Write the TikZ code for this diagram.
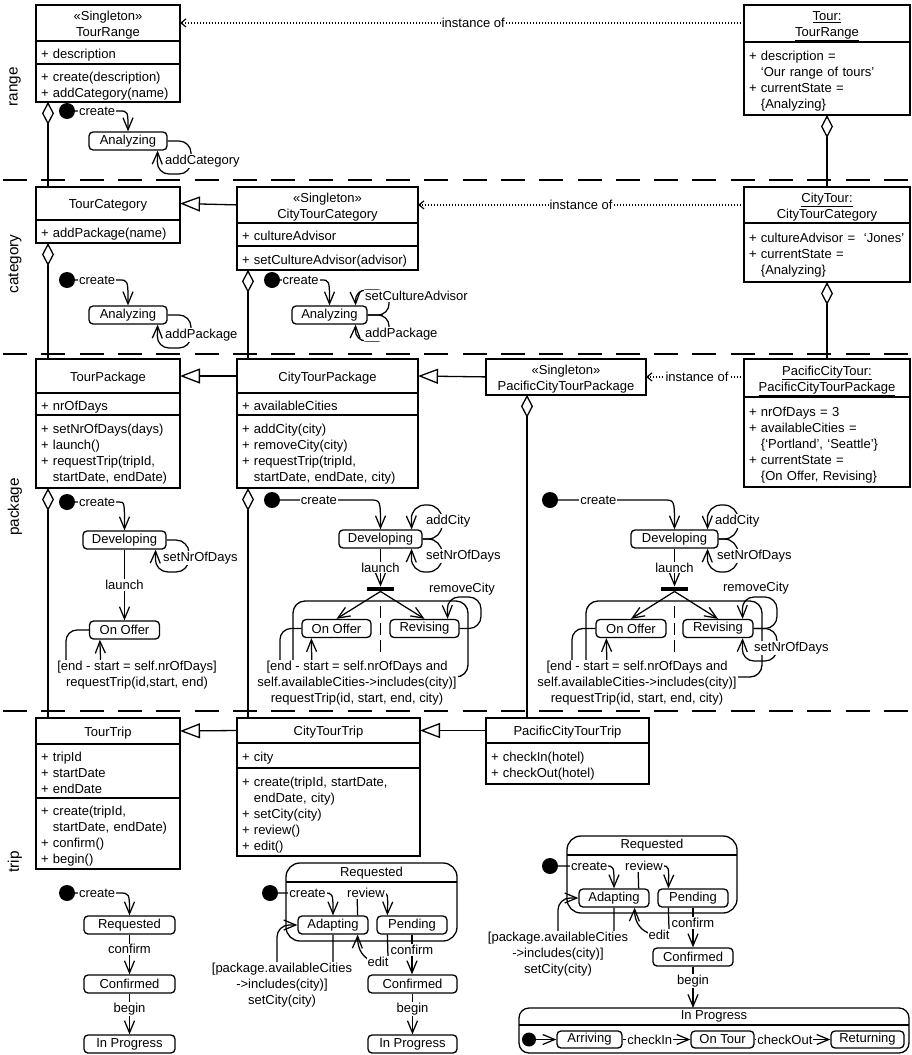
\documentclass[tikz,border=0pt]{standalone}
\usepackage{fontspec}
\setmainfont{Liberation Sans}
\usetikzlibrary{arrows.meta}
\newcommand\umlsize{\fontsize{13}{16}\selectfont}
\newcommand\lanesize{\fontsize{15.3}{18}\selectfont}
% compartment text: left-aligned lines, nudged slightly below the middle
\newcommand\cmplines[1]{\begin{tabular}{@{}l@{}}\rule{0pt}{17.2pt}#1\end{tabular}}
% header text: centred lines, nudged slightly below the middle
\newcommand\hdrlines[1]{\begin{tabular}{@{}c@{}}\rule{0pt}{15pt}#1\end{tabular}}
\newcommand\contind{\phantom{+ }}

\begin{document}
\begin{tikzpicture}[x=1pt, y=-1pt, font=\umlsize,
  box/.style={draw, line width=1.4pt, anchor=north west, inner xsep=5pt, inner ysep=0pt, outer sep=0pt},
  hdr/.style={box, align=center},
  cmp/.style={box, align=left},
  state/.style={draw, line width=1.3pt, rounded corners=4pt, minimum height=18pt, inner sep=0pt},
  init/.style={circle, fill=black, minimum size=16pt, inner sep=0pt},
  fork/.style={fill=black, minimum width=27pt, minimum height=4.5pt, inner sep=0pt},
  region/.style={draw, line width=1.3pt, rounded corners=12pt, anchor=north west, inner sep=0pt, outer sep=0pt},
  composite/.style={draw, line width=1.3pt, rounded corners=14pt, anchor=north west, inner sep=0pt, outer sep=0pt},
  lbl/.style={fill=white, inner sep=1pt},
  guard/.style={fill=white, inner sep=1pt, align=center},
  tr/.style={line width=1.25pt, -{Straight Barb[length=12pt,width=10pt]}},
  gen/.style={line width=1.3pt, -{Triangle[fill=white,length=20pt,width=15pt]}},
  agg/.style={line width=1.3pt, {Diamond[fill=white,length=23pt,width=12pt]}-},
  inst/.style={line width=1.2pt, dash pattern=on 1.5pt off 1.5pt, -{Straight Barb[length=5pt,width=8pt]}},
  lane/.style={line width=1.4pt, dash pattern=on 24pt off 14.3pt},
  sep/.style={line width=1.3pt, dash pattern=on 12pt off 5pt},
  lanename/.style={rotate=90, font=\lanesize},
]
\fill[white] (0,0) rectangle (911,1055);
\useasboundingbox (0,0) rectangle (911,1055);

% swimlane separators
\draw[lane] (3,180) -- (911,180);
\draw[lane] (3,354) -- (911,354);
\draw[lane] (3,711) -- (911,711);

% lane names
\node[lanename] (laneRange) at (15,87) {range};
\node[lanename] (laneCategory) at (15,264) {category};
\node[lanename] (lanePackage) at (15,507) {package};
\node[lanename] (laneTrip) at (15,862) {trip};

% ---------------- classes ----------------
\node[hdr, minimum width=144pt, minimum height=33pt] (TRh) at (36,5) {\hdrlines{«Singleton»\\TourRange}};
\node[cmp, text width=134pt, minimum height=23pt] (TRa) at (TRh.south west) {\cmplines{+ description}};
\node[cmp, text width=134pt, minimum height=38pt] (TRo) at (TRa.south west) {\cmplines{+ create(description)\\+ addCategory(name)}};

\node[hdr, minimum width=144pt, minimum height=33pt] (TCh) at (36,187) {\hdrlines{TourCategory}};
\node[cmp, text width=134pt, minimum height=23pt] (TCo) at (TCh.south west) {\cmplines{+ addPackage(name)}};

\node[hdr, minimum width=181pt, minimum height=34pt] (CTCh) at (237,187) {\hdrlines{«Singleton»\\CityTourCategory}};
\node[cmp, text width=171pt, minimum height=23pt] (CTCa) at (CTCh.south west) {\cmplines{+ cultureAdvisor}};
\node[cmp, text width=171pt, minimum height=24pt] (CTCo) at (CTCa.south west) {\cmplines{+ setCultureAdvisor(advisor)}};

\node[hdr, minimum width=144pt, minimum height=34pt] (TPh) at (36,359) {\hdrlines{TourPackage}};
\node[cmp, text width=134pt, minimum height=22pt] (TPa) at (TPh.south west) {\cmplines{+ nrOfDays}};
\node[cmp, text width=134pt, minimum height=73pt] (TPo) at (TPa.south west) {\cmplines{+ setNrOfDays(days)\\+ launch()\\+ requestTrip(tripId,\\\contind startDate, endDate)}};

\node[hdr, minimum width=181pt, minimum height=34pt] (CTPh) at (237,359) {\hdrlines{CityTourPackage}};
\node[cmp, text width=171pt, minimum height=22pt] (CTPa) at (CTPh.south west) {\cmplines{+ availableCities}};
\node[cmp, text width=171pt, minimum height=73pt] (CTPo) at (CTPa.south west) {\cmplines{+ addCity(city)\\+ removeCity(city)\\+ requestTrip(tripId,\\\contind startDate, endDate, city)}};

\node[hdr, minimum width=160pt, minimum height=34pt] (PCTPh) at (486,359) {\hdrlines{«Singleton»\\PacificCityTourPackage}};

\node[hdr, minimum width=144pt, minimum height=26pt] (TTh) at (36,718) {\hdrlines{TourTrip}};
\node[cmp, text width=134pt, minimum height=54pt] (TTa) at (TTh.south west) {\cmplines{+ tripId\\+ startDate\\+ endDate}};
\node[cmp, text width=134pt, minimum height=71pt] (TTo) at (TTa.south west) {\cmplines{+ create(tripId,\\\contind startDate, endDate)\\+ confirm()\\+ begin()}};

\node[hdr, minimum width=183pt, minimum height=25pt] (CTTh) at (237,718) {\hdrlines{CityTourTrip}};
\node[cmp, text width=173pt, minimum height=25pt] (CTTa) at (CTTh.south west) {\cmplines{+ city}};
\node[cmp, text width=173pt, minimum height=88pt] (CTTo) at (CTTa.south west) {\cmplines{+ create(tripId, startDate,\\\contind endDate, city)\\+ setCity(city)\\+ review()\\+ edit()}};

\node[hdr, minimum width=163pt, minimum height=25pt] (PCTTh) at (486,718) {\hdrlines{PacificCityTourTrip}};
\node[cmp, text width=153pt, minimum height=41pt] (PCTTo) at (PCTTh.south west) {\cmplines{+ checkIn(hotel)\\+ checkOut(hotel)}};

% ---------------- instances ----------------
\node[hdr, minimum width=166pt, minimum height=37pt] (TIh) at (744,5) {\hdrlines{\underline{Tour:}\\\underline{TourRange}}};
\node[cmp, text width=156pt, minimum height=73pt] (TIa) at (TIh.south west) {\cmplines{+ description =\\\contind ‘Our range of tours’\\+ currentState =\\\contind \{Analyzing\}}};

\node[hdr, minimum width=166pt, minimum height=36pt] (CTIh) at (744,187) {\hdrlines{\underline{CityTour:}\\\underline{CityTourCategory}}};
\node[cmp, text width=156pt, minimum height=59pt] (CTIa) at (CTIh.south west) {\cmplines{+ cultureAdvisor = \ ‘Jones’\\+ currentState =\\\contind \{Analyzing\}}};

\node[hdr, minimum width=166pt, minimum height=38pt] (PCTIh) at (744,359) {\hdrlines{\underline{PacificCityTour:}\\\underline{PacificCityTourPackage}}};
\node[cmp, text width=156pt, minimum height=90pt] (PCTIa) at (PCTIh.south west) {\cmplines{+ nrOfDays = 3\\+ availableCities =\\\contind \{‘Portland’, ‘Seattle’\}\\+ currentState =\\\contind \{On Offer, Revising\}}};

% generalizations
\draw[gen] (CTCh.west) -- (TCh.east);
\draw[gen] (CTPh.west) -- (TPh.east);
\draw[gen] (PCTPh.west) -- (CTPh.east);
\draw[gen] (CTTh.west) -- (TTh.east);
\draw[gen] (PCTTh.west) -- (CTTh.east);

% aggregations
\draw[agg] ([xshift=12pt]TRo.south west) -- ([xshift=12pt]TCh.north west);
\draw[agg] ([xshift=12pt]TCo.south west) -- ([xshift=12pt]TPh.north west);
\draw[agg] ([xshift=12pt]TPo.south west) -- ([xshift=12pt]TTh.north west);
\draw[agg] ([xshift=11pt]CTCo.south west) -- ([xshift=11pt]CTPh.north west);
\draw[agg] ([xshift=11pt]CTPo.south west) -- ([xshift=11pt]CTTh.north west);
\draw[agg] ([xshift=41pt]PCTPh.south west) -- ([xshift=41pt]PCTTh.north west);
\draw[agg] (TIa.south) -- (CTIh.north);
\draw[agg] (CTIa.south) -- (PCTIh.north);

% instance-of dependencies
\draw[inst] (TIh.west |- TRh.east) -- node[lbl, pos=0.48]{instance of} (TRh.east);
\draw[inst] (CTIh.west |- CTCh.east) -- node[lbl]{instance of} (CTCh.east);
\draw[inst] (PCTIh.west |- PCTPh.east) -- node[lbl, pos=0.48]{instance of} (PCTPh.east);

% ---------------- range: TourRange life cycle ----------------
\node[init] (rgI) at (67,111) {};
\node[state, minimum width=78pt] (rgA) at (128,141) {Analyzing};
\draw[tr] (rgI) -- node[lbl]{create} (119,111) .. controls (rgA.north |- rgI) .. (rgA.north);
\draw[tr, rounded corners=12pt] (rgA.east) -- (191,141) |- (157,174) -- ([xshift=-10pt]rgA.south east);
\node[lbl, anchor=west] (rgAloop) at (164,161) {addCategory};

% ---------------- category ----------------
\node[init] (tcI) at (67,280) {};
\node[state, minimum width=78pt] (tcA) at (128,315) {Analyzing};
\draw[tr] (tcI) -- node[lbl]{create} (119,280) .. controls (tcA.north |- tcI) .. (tcA.north);
\draw[tr, rounded corners=12pt] (tcA.east) -- (191,315) |- (157,348) -- ([xshift=-10pt]tcA.south east);
\node[lbl, anchor=west] (tcAloop) at (164,335) {addPackage};

\node[init] (ctcI) at (272,280) {};
\node[state, minimum width=75pt] (ctcA) at (329.5,315) {Analyzing};
\draw[tr] (ctcI) -- node[lbl]{create} (321,280) .. controls (ctcA.north |- ctcI) .. (ctcA.north);
\draw[tr, rounded corners=11pt] (ctcA.east) -- (389,315) -- (389,290) -- (355,290) -- ([xshift=-12pt]ctcA.north east);
\draw[tr, rounded corners=11pt] (ctcA.east) -- (389,315) -- (389,341) -- (355,341) -- ([xshift=-12pt]ctcA.south east);
\node[lbl, anchor=west] (ctcAup) at (364,296) {setCultureAdvisor};
\node[lbl, anchor=west] (ctcAdown) at (364,334) {addPackage};

% ---------------- package ----------------
\node[init] (tpI) at (67,502) {};
\node[state, minimum width=83pt] (tpD) at (124.5,540) {Developing};
\node[state, minimum width=70pt] (tpO) at (124.5,630) {On Offer};
\draw[tr] (tpI) -- node[lbl]{create} (119,502) .. controls (tpD.north |- tpI) .. (tpD.north);
\draw[tr, rounded corners=13pt] (tpD.east) -- (189,540) |- (155,572) -- ([xshift=-11pt]tpD.south east);
\node[lbl, anchor=west] (tpDloop) at (162,558) {setNrOfDays};
\draw[tr] (tpD) -- node[lbl]{launch} (tpO);
\draw[tr, rounded corners=11pt] (tpO.west) -- (66,630) -- (66,672) -- (101,672) -- ([xshift=11pt]tpO.south west);
\node[guard] (tpGuard) at (137,675) {[end - start = self.nrOfDays]\\requestTrip(id,start, end)};

\node[init] (cpI) at (272,500) {};
\node[state, minimum width=83pt] (cpD) at (380.5,539) {Developing};
\node[fork] (cpF) at (380.5,589) {};
\node[region, minimum width=175pt, minimum height=76pt] (cpRg) at (293,601) {};
\node[state, minimum width=69pt] (cpO) at (336.5,628.5) {On Offer};
\node[state, minimum width=69pt] (cpV) at (424.5,628.5) {Revising};
\draw[sep] (380.5,606) -- (380.5,657);
\draw[tr] (cpI) -- node[lbl,pos=0.43]{create} (370,500) .. controls (cpD.north |- cpI) .. (cpD.north);
\draw[tr, rounded corners=14pt] (cpD.east) -- (442,539) -- (442,505) -- (411,505) -- ([xshift=-11pt]cpD.north east);
\draw[tr, rounded corners=14pt] (cpD.east) -- (442,539) -- (442,572) -- (411,572) -- ([xshift=-11pt]cpD.south east);
\node[lbl, anchor=west] (cpDup) at (425,521) {addCity};
\node[lbl, anchor=west] (cpDdown) at (425,556) {setNrOfDays};
\draw[tr] (cpD) -- node[lbl]{launch} (cpF);
\draw[tr] (cpF.south) -- (cpO.north);
\draw[tr] (cpF.south) -- (cpV.north);
\draw[tr, rounded corners=11pt] (cpO.west) -- (280,628.5) -- (280,672) -- (312,672) -- ([xshift=10pt]cpO.south west);
\draw[tr, rounded corners=12pt] (cpV.east) -- (481,628.5) -- (481,597) -- (447,597) -- ([xshift=-12pt]cpV.north east);
\node[lbl] (cpVup) at (462,589) {removeCity};
\node[guard] (cpGuard) at (357,683) {[end - start = self.nrOfDays and\\self.availableCities->includes(city)]\\requestTrip(id, start, end, city)};

\node[init] (ppI) at (550,500) {};
\node[state, minimum width=87pt] (ppD) at (674.5,539) {Developing};
\node[fork] (ppF) at (674.5,589) {};
\node[region, minimum width=176pt, minimum height=76pt] (ppRg) at (586,601) {};
\node[state, minimum width=70pt] (ppO) at (631,628.5) {On Offer};
\node[state, minimum width=70pt] (ppV) at (718,628.5) {Revising};
\draw[sep] (674.5,606) -- (674.5,657);
\draw[tr] (ppI) -- node[lbl,pos=0.38]{create} (664,500) .. controls (ppD.north |- ppI) .. (ppD.north);
\draw[tr, rounded corners=14pt] (ppD.east) -- (738,539) -- (738,505) -- (707,505) -- ([xshift=-11pt]ppD.north east);
\draw[tr, rounded corners=14pt] (ppD.east) -- (738,539) -- (738,572) -- (707,572) -- ([xshift=-11pt]ppD.south east);
\node[lbl, anchor=west] (ppDup) at (714,521) {addCity};
\node[lbl, anchor=west] (ppDdown) at (716,556) {setNrOfDays};
\draw[tr] (ppD) -- node[lbl]{launch} (ppF);
\draw[tr] (ppF.south) -- (ppO.north);
\draw[tr] (ppF.south) -- (ppV.north);
\draw[tr, rounded corners=11pt] (ppO.west) -- (572,628.5) -- (572,672) -- (607,672) -- ([xshift=11pt]ppO.south west);
\draw[tr, rounded corners=12pt] (ppV.east) -- (777,628.5) -- (777,597) -- (742,597) -- ([xshift=-11pt]ppV.north east);
\draw[tr, rounded corners=12pt] (ppV.east) -- (777,628.5) -- (777,661) -- (742,661) -- ([xshift=-11pt]ppV.south east);
\node[lbl] (ppVup) at (756,588) {removeCity};
\node[lbl, anchor=west] (ppVdown) at (753,648) {setNrOfDays};
\node[guard] (ppGuard) at (637,683) {[end - start = self.nrOfDays and\\self.availableCities->includes(city)]\\requestTrip(id, start, end, city)};

% ---------------- trip ----------------
\node[init] (ttI) at (67,893) {};
\node[state, minimum width=91pt] (ttR) at (129.5,925) {Requested};
\node[state, minimum width=91pt] (ttC) at (129.5,984) {Confirmed};
\node[state, minimum width=91pt] (ttP) at (129.5,1044) {In Progress};
\draw[tr] (ttI) -- node[lbl]{create} (119,893) .. controls (ttR.north |- ttI) .. (ttR.north);
\draw[tr] (ttR) -- node[lbl,pos=0.37]{confirm} (ttC);
\draw[tr] (ttC) -- node[lbl,pos=0.37]{begin} (ttP);

\node[composite, minimum width=171pt, minimum height=78pt] (ctR) at (286,863) {};
\node (ctRt) at (371.5,873) {Requested};
\draw[line width=1.3pt] (286,882) -- (457,882);
\node[init] (ctI) at (270,893) {};
\node[state, minimum width=70pt] (ctA) at (333,925) {Adapting};
\node[state, minimum width=70pt] (ctN) at (412,925) {Pending};
\node[state, minimum width=89pt] (ctC) at (412.5,984) {Confirmed};
\node[state, minimum width=89pt] (ctP) at (412.5,1044) {In Progress};
\draw[tr] (ctI) -- node[lbl,pos=0.64]{create} (324,893) .. controls (ctA.north |- ctI) .. (ctA.north);
\draw[tr] ([xshift=-11pt]ctA.north east) -- (357,893) -- node[lbl,pos=0.36]{review} (382,893) .. controls (388,893) .. ([xshift=11pt]ctN.north west);
\draw[tr, rounded corners=12pt] (ctA.south) -- (333,975) -- (277,975) -- (277,925) -- (ctA.west);
\draw[tr] ([xshift=11pt]ctN.south west) -- (388,957) .. controls (388,966) and (357,966) .. ([xshift=-11pt]ctA.south east);
\node[lbl] (ctEdit) at (378,962) {edit};
\draw[tr] (ctN.south) -- node[lbl,pos=0.39]{confirm} (ctN.south |- ctC.north);
\draw[tr] (ctC) -- node[lbl,pos=0.37]{begin} (ctP);
\node[guard] (ctGuard) at (282,985) {[package.availableCities\\->includes(city)]\\setCity(city)};

\node[composite, minimum width=170pt, minimum height=77pt] (pcR) at (567,836) {};
\node (pcRt) at (652,845) {Requested};
\draw[line width=1.3pt] (567,855) -- (737,855);
\node[init] (pcI) at (550,866) {};
\node[state, minimum width=70pt] (pcA) at (614,898) {Adapting};
\node[state, minimum width=70pt] (pcN) at (693,898) {Pending};
\node[state, minimum width=80pt] (pcC) at (693,957) {Confirmed};
\node[composite, rounded corners=10pt, minimum width=390pt, minimum height=45pt] (pcP) at (519,1008) {};
\node (pcPt) at (714,1016) {In Progress};
\draw[line width=1.3pt] (519,1025) -- (909,1025);
\node[init, minimum size=14pt] (pcPI) at (529,1039.5) {};
\node[state, minimum width=65pt, minimum height=17pt] (pcArr) at (589.5,1039.5) {Arriving};
\node[state, minimum width=63pt, minimum height=17pt] (pcTour) at (722.5,1039.5) {On Tour};
\node[state, minimum width=73pt, minimum height=17pt] (pcRet) at (867.5,1039.5) {Returning};
\draw[tr] (pcPI) -- (pcArr);
\draw[tr] (pcArr) -- node[lbl,pos=0.40]{checkIn} (pcTour);
\draw[tr] (pcTour) -- node[lbl,pos=0.40]{checkOut} (pcRet);
\draw[tr] (pcI) -- node[lbl,pos=0.65]{create} (606,866) .. controls (pcA.north |- pcI) .. (pcA.north);
\draw[tr] ([xshift=-11pt]pcA.north east) -- (638,866) -- node[lbl,pos=0.25]{review} (662,866) .. controls (669,866) .. ([xshift=11pt]pcN.north west);
\draw[tr, rounded corners=12pt] (pcA.south) -- (614,948) -- (558,948) -- (558,898) -- (pcA.west);
\draw[tr] ([xshift=11pt]pcN.south west) -- (669,929) .. controls (669,939) and (634,939) .. ([xshift=-15pt]pcA.south east);
\node[lbl] (pcEdit) at (659,935) {edit};
\draw[tr] (pcN.south) -- node[lbl,pos=0.39]{confirm} (pcC.north);
\draw[tr] (pcC.south) -- node[lbl,pos=0.35]{begin} (pcC.south |- pcP.north);
\node[guard] (pcGuard) at (558,954) {[package.availableCities\\->includes(city)]\\setCity(city)};
\end{tikzpicture}
\end{document}
